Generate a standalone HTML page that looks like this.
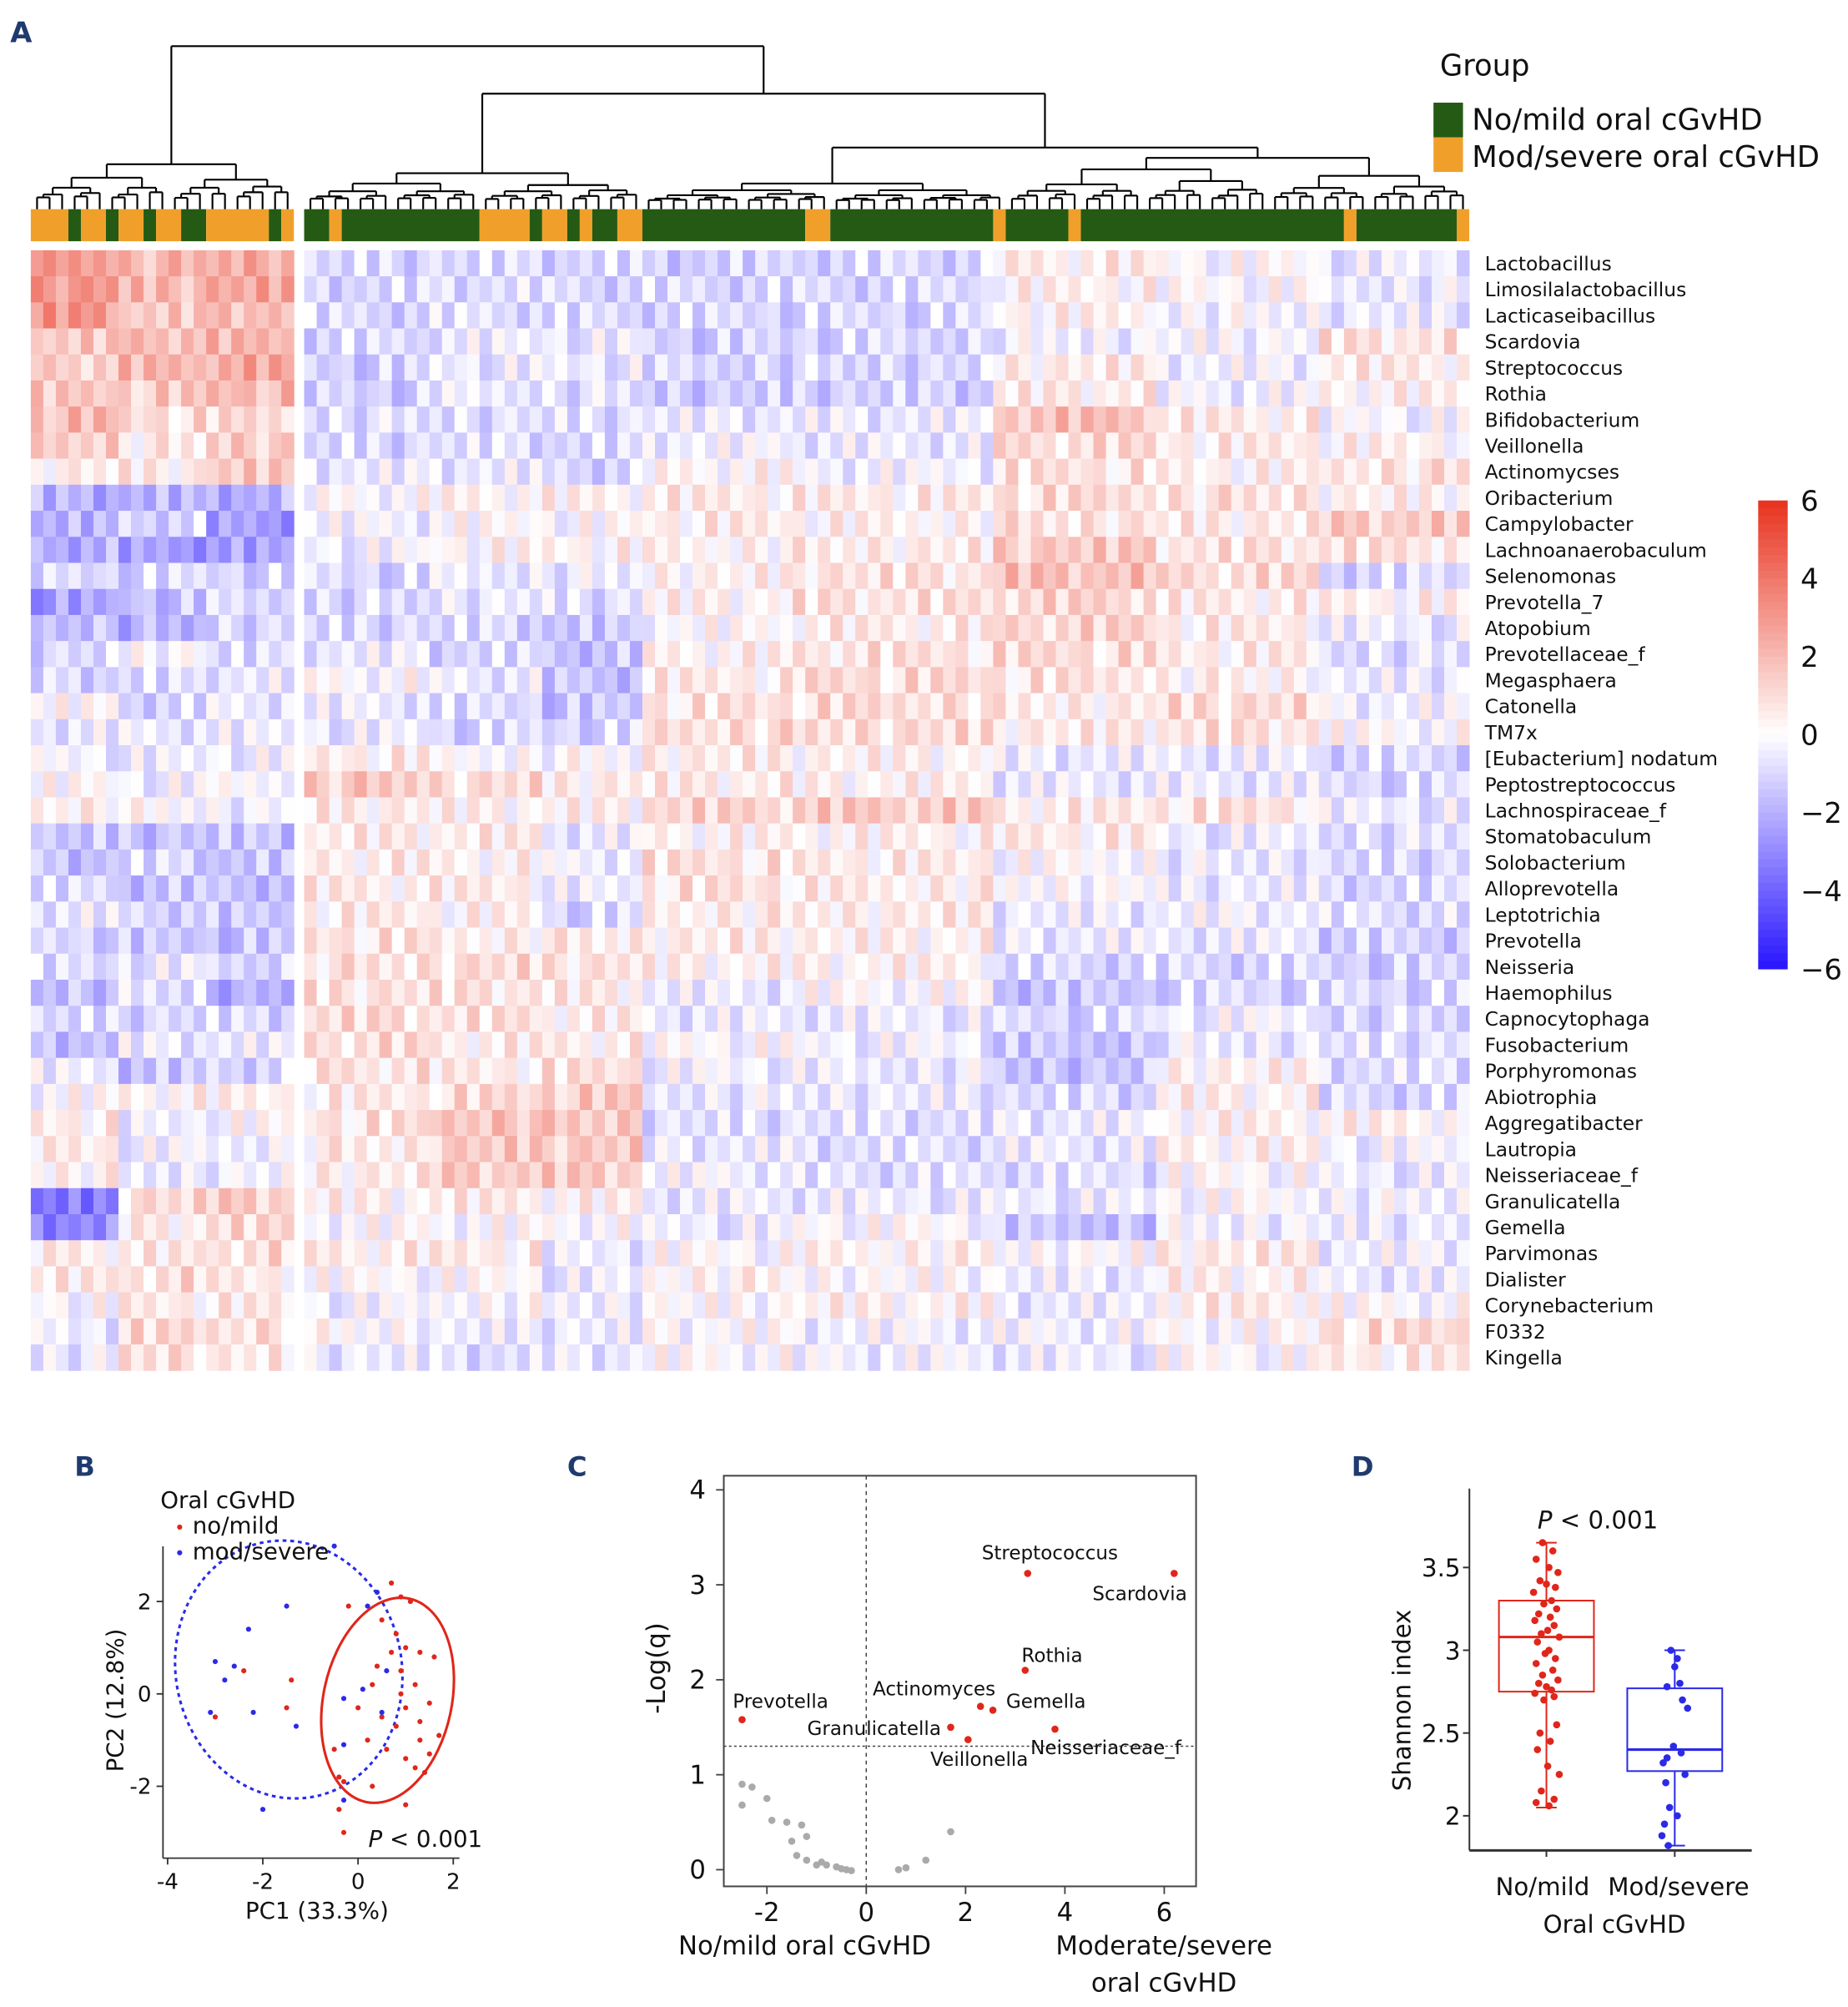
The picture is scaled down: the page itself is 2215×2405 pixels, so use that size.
<!DOCTYPE html>
<html><head><meta charset="utf-8">
<style>
html,body{margin:0;padding:0;background:#fff;}
svg{display:block;}
text{font-family:"DejaVu Sans","Liberation Sans",sans-serif;fill:#111;}
</style></head>
<body>
<svg id="fig" xmlns="http://www.w3.org/2000/svg" width="2215" height="2405" viewBox="0 0 1440 1564" preserveAspectRatio="none">
<rect x="0" y="0" width="1440" height="1564" fill="#fff"/>
<g id="panelA"></g>
<g id="panelB"></g>
<g id="panelC"></g>
<g id="panelD"></g>
</svg>
<script>
// ===== Panel A data =====
const taxa = ["Lactobacillus","Limosilalactobacillus","Lacticaseibacillus","Scardovia","Streptococcus","Rothia","Bifidobacterium","Veillonella","Actinomycses","Oribacterium","Campylobacter","Lachnoanaerobaculum","Selenomonas","Prevotella_7","Atopobium","Prevotellaceae_f","Megasphaera","Catonella","TM7x","[Eubacterium] nodatum","Peptostreptococcus","Lachnospiraceae_f","Stomatobaculum","Solobacterium","Alloprevotella","Leptotrichia","Prevotella","Neisseria","Haemophilus","Capnocytophaga","Fusobacterium","Porphyromonas","Abiotrophia","Aggregatibacter","Lautropia","Neisseriaceae_f","Granulicatella","Gemella","Parvimonas","Dialister","Corynebacterium","F0332","Kingella"];
// group runs: [group(0=no/mild,1=mod/severe), length]
const groupRunsLeft = [[1,3],[0,1],[1,2],[0,1],[1,2],[0,1],[1,2],[0,2],[1,5],[0,1],[1,1]];
const groupRunsRight = [[0,2],[1,1],[0,11],[1,4],[0,1],[1,2],[0,1],[1,1],[0,2],[1,2],[0,13],[1,2],[0,13],[1,1],[0,5],[1,1],[0,21],[1,1],[0,8],[1,1]];
// segment z-score values per taxon: 3 left segments + 8 right segments
const segVals = [
[3,2,2.5,-1,-1,-1,-1.2,-1,0.5,0,-0.5],
[3,2,2.5,-1,-0.8,-1,-1,-1,0.3,0,-0.5],
[3,1.5,2,-1,-0.8,-1,-1,-1,0.3,-0.2,-0.5],
[1.5,2,2,-1,-0.5,-0.5,-1.2,-1,-0.3,-0.2,0.8],
[1.5,2,2.5,-1.2,-0.5,-0.5,-1,-1,0.5,-0.3,0.5],
[1.5,1.5,2,-1.2,-0.5,-0.8,-1.3,-1.2,0.5,-0.3,0.3],
[2,1,1,-0.8,-0.8,-0.8,-0.5,-0.5,1.8,0.5,-0.2],
[1.5,0.5,1.5,-1,-0.8,-1,-0.3,-0.5,1,0.5,0.3],
[0.5,0.5,1.5,-0.5,-0.5,-1,0.2,-0.3,0.8,0.3,0.8],
[-2,-2,-2,0,0.3,0.3,0.5,0.5,1,0.8,0.3],
[-2,-1,-2.5,-0.3,0,0,0.5,0.3,0.8,0.5,1.5],
[-2,-2.5,-2.5,-0.3,0.2,0.3,0.3,0.5,1.5,0.8,0.8],
[-1,-1,-1,-1,-0.5,-0.5,0.3,0.8,1.8,1,-1],
[-2.5,-1.5,-1,-1,-0.5,-0.8,0.3,0.8,1.2,0.5,0.3],
[-1.5,-2,-1,-1,-1,-1.5,0,0.5,1.2,0.5,-0.5],
[-1,0,-1,-0.5,-1,-1.5,0.3,0.8,1,0.5,-0.8],
[-1,-1,-0.5,0,-0.5,-1.5,0.5,1,0.8,0.3,-0.5],
[0,-1,-0.5,-0.5,-1,-1.5,0.8,1,0.5,1,-0.3],
[-0.5,-0.5,-0.5,-0.5,-1,-1,1,1,0.5,0.8,0],
[-0.3,-0.5,-0.3,0.5,0,0,0.5,0.3,-0.5,-0.5,-1],
[0,-0.3,0,1.5,1,0.5,0.5,0.3,-0.5,-0.5,-1],
[0.5,0,-0.3,0.5,0.3,0.3,1.2,1.5,0.5,0.8,-0.5],
[-1.5,-1.5,-1.5,0.5,0.5,-0.5,0.3,0.3,0.5,-0.5,-0.8],
[-1.5,-1,-1.5,0.5,0.3,-0.3,0.8,0.5,0,-0.5,-1],
[-1,-1.5,-1.5,0.5,0.5,-0.5,0.8,0.5,0,-0.5,-1],
[-0.5,-1,-1.5,0.5,0.3,-1,0.5,0.5,-0.5,-0.3,-0.8],
[-1,-1.5,-1.5,0.8,0.5,0.5,0.5,0.3,-0.5,-0.5,-1.2],
[-1,-0.5,-1,0.8,1,0.8,0.3,0.3,-1,-1,-1.2],
[-1.5,-0.8,-2,0.8,0.8,0.5,-0.5,0,-1.5,-1,-1],
[-1,-1,-1,1,0.8,0.5,-0.5,-0.5,-1,-0.3,-1],
[-1.5,-0.5,-0.5,1,0.5,0.5,0,-0.3,-1.5,-0.5,-0.8],
[-0.5,-1.5,-1,0.8,0.5,0.8,-0.3,-0.5,-1.5,0.3,-0.8],
[0,0.3,0.3,0.5,1,1.5,-0.5,-0.5,-1,0.3,-1],
[0.5,-0.5,0,0.8,1.8,1.5,-0.8,-0.8,-0.5,0.3,0.3],
[0.5,-0.3,-0.3,0.5,1.5,1.5,-0.5,-0.8,-0.5,0.3,-0.3],
[0.3,-0.5,-0.3,0.5,1.5,1.5,-0.3,-0.8,-0.8,0,-0.5],
[-3.5,1,1.5,0.3,0.5,0.3,-0.5,-0.5,-0.5,0,-0.3],
[-3,0.5,1,0,0,0,-0.5,0,-1.5,-0.3,-0.5],
[0.5,0.5,1,0.5,0.5,-0.5,0,0.3,0,0.5,-0.3],
[0.5,1,0.5,0,0,-0.5,0.3,0,-0.5,0.3,-0.5],
[0,0.5,0.5,-0.3,0,-0.3,0,0.3,-0.5,0.5,0],
[-0.5,1,1,0,-0.5,-0.5,0,-0.3,-0.3,0,1],
[-0.5,1,0.5,-0.5,-0.8,-0.5,0,-0.3,-0.5,0,0.5]
];
const texture = "4736251840593726184057362918405736291847053629184705362918473506291847350629184735062918473560291847356029184735602918";
const scaleTicks = [6,4,2,0,-2,-4,-6];

// ===== Panel B data =====
const pcaRedX = [-0.2,0.7,0.9,1.1,0.5,0.8,1.0,0.3,-1.4,-2.4,-3.0,-1.5,0.0,0.5,0.8,1.0,1.3,1.5,1.2,0.9,0.7,1.3,1.6,0.2,-0.5,0.6,1.0,1.3,1.5,1.2,1.4,0.3,-0.4,-0.4,1.0,-0.3,0.9,1.7,-0.3,0.4];
const pcaRedY = [1.9,2.4,2.1,2.0,1.6,1.3,1.0,0.2,0.3,0.5,-0.5,-0.3,-0.3,-0.5,-0.7,-0.3,-0.6,-0.2,0.2,0.5,0.9,0.9,0.8,-1.0,-1.2,-1.2,-1.4,-1.0,-1.3,-1.6,-1.7,-2.0,-1.8,-2.5,-2.4,-1.9,0.0,-0.9,-3.0,0.6];
const pcaBlueX = [-0.5,-1.5,-2.3,-3.0,-2.6,-2.8,-3.1,-2.2,-1.3,-0.3,-0.3,-2.0,0.2,0.4,0.6,0.5,0.1,-0.3];
const pcaBlueY = [3.2,1.9,1.4,0.7,0.6,0.3,-0.4,-0.4,-0.7,-1.1,-2.3,-2.5,1.9,2.2,0.5,-0.4,0.1,-0.1];
const pcaXTicks = [-4,-2,0,2];
const pcaYTicks = [2,0,-2];

// ===== Panel C data =====
const volcLabels = ["Streptococcus","Scardovia","Rothia","Actinomyces","Gemella","Prevotella","Granulicatella","Veillonella","Neisseriaceae_f"];
const volcSigX = [3.25,6.2,3.2,2.3,2.55,-2.5,1.7,2.05,3.8];
const volcSigY = [3.12,3.12,2.1,1.72,1.68,1.58,1.5,1.37,1.48];
const volcNsX = [-2.5,-2.3,-2.5,-2.0,-1.9,-1.6,-1.3,-1.2,-1.5,-1.4,-1.2,-1.0,-0.8,-0.6,-0.5,-0.4,-0.3,-0.9,0.65,0.8,1.2,1.7];
const volcNsY = [0.9,0.87,0.68,0.75,0.52,0.5,0.47,0.35,0.3,0.15,0.1,0.05,0.05,0.03,0.01,0.0,-0.01,0.08,0.0,0.02,0.1,0.4];
const volcXTicks = [-2,0,2,4,6];
const volcYTicks = [0,1,2,3,4];
const volcThreshold = 1.3;

// ===== Panel D data =====
const shannonRed = [3.65,3.6,3.55,3.5,3.47,3.42,3.4,3.38,3.35,3.3,3.28,3.25,3.22,3.2,3.18,3.15,3.12,3.1,3.08,3.05,3.0,2.98,2.95,2.92,2.88,2.85,2.82,2.8,2.78,2.76,2.74,2.72,2.7,2.55,2.5,2.45,2.4,2.3,2.25,2.15,2.1,2.08,2.06];
const shannonBlue = [3.0,2.95,2.9,2.8,2.78,2.7,2.65,2.42,2.38,2.35,2.32,2.25,2.2,2.05,2.0,1.95,1.82,1.88];
const redBox = {q1:2.75,med:3.08,q3:3.3,lo:2.05,hi:3.65};
const blueBox = {q1:2.27,med:2.4,q3:2.77,lo:1.82,hi:3.0};
const shannonTicks = [2,2.5,3,3.5];

const NS="http://www.w3.org/2000/svg";
function mk(tag, attrs, parent, txt){const e=document.createElementNS(NS,tag);for(const k in attrs)e.setAttribute(k,attrs[k]);if(txt!==undefined)e.textContent=txt;parent.appendChild(e);return e;}

// ===== Panel A =====
(function(){
const g=document.getElementById('panelA');
const t=mk('text',{x:8,y:33,'font-size':22,'font-weight':'bold',style:'fill:#1f3a6e'},g,'A');


const w=(229-24)/21, nL=21, nR=93, top=195, rh=(1068-195)/taxa.length;
const colX=c=>c<nL?24+c*w:237+(c-nL)*w;
const rightSeg=[0,10,19,27,39,55,68,81,93];
function segOf(c){if(c<nL)return Math.min(2,Math.floor(c/7));const r=c-nL;for(let i=0;i<8;i++){if(r<rightSeg[i+1])return 3+i;}return 10;}
function color(v){v=Math.max(-6,Math.min(6,v));const f=Math.abs(v)/6;
 if(v>=0){return `rgb(${Math.round(255-(255-232)*f)},${Math.round(255-(255-50)*f)},${Math.round(255-(255-30)*f)})`;}
 return `rgb(${Math.round(255-(255-40)*f)},${Math.round(255-(255-20)*f)},${Math.round(255-(255-255)*f)})`;}
const hm=mk('g',{},g);


for(let r=0;r<taxa.length;r++){
 for(let c=0;c<nL+nR;c++){
  const d=+texture[(c+r*17)%texture.length];
  const v=segVals[r][segOf(c)]+(d-4.5)*0.22;
  const cell=mk('rect',{x:colX(c).toFixed(2),y:(top+r*rh).toFixed(2),width:(w+0.3).toFixed(2),height:(rh+0.3).toFixed(2),fill:color(v)},hm);
  
  
 }
 const lab=mk('text',{x:1157,y:(top+r*rh+rh/2+5.5).toFixed(1),'font-size':15.2},g,taxa[r]);
 
 
}
// group bar
const gb=mk('g',{},g);


let c=0;
for(const [grp,len] of groupRunsLeft.concat(groupRunsRight)){
 const x0=colX(c), x1=colX(c+len-1)+w;
 const rr=mk('rect',{x:x0.toFixed(2),y:163,width:(x1-x0).toFixed(2),height:25,fill:grp?'#f0a02a':'#245a14'},gb);
 
 
 c+=len;
}
// dendrogram
const dg=mk('g',{stroke:'#000','stroke-width':1.4,fill:'none'},g);


function line(x1,y1,x2,y2){mk('line',{x1,y1,x2,y2},dg);}
function tree(a,b,yTop,depth){
 if(a===b)return colX(a)+w/2;
 const m=Math.floor((a+b)/2);
 const span=158-yTop;
 const yL=yTop+span*(0.35+0.1*((a+depth)%3)/2), yR=yTop+span*(0.3+0.1*((b+depth)%3)/2);
 const xl=tree(a,m,m===a?158:yL,depth+1), xr=tree(m+1,b,m+1===b?158:yR,depth+1);
 const ylT=m===a?158:yL, yrT=m+1===b?158:yR;
 line(xl,ylT,xl,yTop);line(xr,yrT,xr,yTop);line(xl,yTop,xr,yTop);
 return (xl+xr)/2;
}
function leafDrop(a,b){for(let i=a;i<=b;i++){line(colX(i)+w/2,158,colX(i)+w/2,163);}}
leafDrop(0,nL+nR-1);
const xLeft=tree(0,20,128,0);
const xA=tree(21,47,135,0);
const xB=tree(48,76,143,0);
const xC1=tree(77,97,132,0);
const xC2=tree(98,113,137,0);
line(xC1,132,xC1,123);line(xC2,137,xC2,123);line(xC1,123,xC2,123);
const xC=(xC1+xC2)/2;
line(xB,143,xB,115);line(xC,123,xC,115);line(xB,115,xC,115);
const xBC=(xB+xC)/2;
line(xA,135,xA,73);line(xBC,115,xBC,73);line(xA,73,xBC,73);
const xR=(xA+xBC)/2;
line(xLeft,128,xLeft,36);line(xR,73,xR,36);line(xLeft,36,xR,36);
// legend
const lg=mk('g',{},g);


mk('text',{x:1122,y:59,'font-size':23},lg,'Group');
const s1=mk('rect',{x:1117,y:80,width:23,height:27,fill:'#245a14'},lg);


const s2=mk('rect',{x:1117,y:107,width:23,height:27,fill:'#f0a02a'},lg);


mk('text',{x:1147,y:101,'font-size':23},lg,'No/mild oral cGvHD');
mk('text',{x:1147,y:130,'font-size':23},lg,'Mod/severe oral cGvHD');
// colour scale
const cb=mk('g',{},g);


const cbTop=390,cbBot=755,steps=60;
for(let i=0;i<steps;i++){
 const v=6-12*(i+0.5)/steps;
 mk('rect',{x:1370,y:(cbTop+i*(cbBot-cbTop)/steps).toFixed(2),width:23,height:((cbBot-cbTop)/steps+0.4).toFixed(2),fill:color(v)},cb);
}
for(const tv of scaleTicks){
 const y=cbTop+(6-tv)/12*(cbBot-cbTop);
 const tl=mk('text',{x:1403,y:(y+8).toFixed(1),'font-size':22},cb,tv<0?'\u2212'+Math.abs(tv):String(tv));
 
 
}
})();

// ===== Panel B =====
(function(){
const g=document.getElementById('panelB');
const L=mk('text',{x:58,y:1150,'font-size':21,'font-weight':'bold',style:'fill:#1f3a6e'},g,'B');


const X=v=>279+v*37.1, Y=v=>1320-v*36;
const ax=mk('g',{stroke:'#333','stroke-width':1.2},g);


mk('line',{x1:127,y1:1205,x2:127,y2:1448},ax);
mk('line',{x1:127,y1:1448,x2:358,y2:1448},ax);
for(const t of pcaXTicks){mk('line',{x1:X(t),y1:1448,x2:X(t),y2:1453},ax);
 const tl=mk('text',{x:X(t),y:1472,'font-size':17,'text-anchor':'middle'},g,t<0?'-'+Math.abs(t):String(t));
 
 }
for(const t of pcaYTicks){mk('line',{x1:122,y1:Y(t),x2:127,y2:Y(t)},ax);
 const tl=mk('text',{x:118,y:Y(t)+6,'font-size':17,'text-anchor':'end'},g,t<0?'-'+Math.abs(t):String(t));
 
 }
const xt=mk('text',{x:247,y:1495,'font-size':18,'text-anchor':'middle'},g,'PC1 (33.3%)');


const yt=mk('text',{x:0,y:0,'font-size':18,'text-anchor':'middle',transform:'translate(96,1325) rotate(-90)'},g,'PC2 (12.8%)');


const e1=mk('ellipse',{cx:225,cy:1301,rx:88,ry:101,fill:'none',stroke:'#2a2ae8','stroke-width':2,'stroke-dasharray':'3 3',transform:'rotate(-12 225 1301)'},g);


const e2=mk('ellipse',{cx:302,cy:1325,rx:50,ry:81,fill:'none',stroke:'#e0261b','stroke-width':2,transform:'rotate(12 302 1325)'},g);


pcaRedX.forEach((v,i)=>{const p=mk('circle',{cx:X(v),cy:Y(pcaRedY[i]),r:2,fill:'#e0261b'},g);
 
 });
pcaBlueX.forEach((v,i)=>{const p=mk('circle',{cx:X(v),cy:Y(pcaBlueY[i]),r:2,fill:'#2a2ae8'},g);
 
 });
const lg=mk('g',{},g);


mk('text',{x:125,y:1175,'font-size':18},lg,'Oral cGvHD');
mk('circle',{cx:140,cy:1190,r:2,fill:'#e0261b'},lg);
mk('text',{x:150,y:1195,'font-size':18},lg,'no/mild');
mk('circle',{cx:140,cy:1210,r:2,fill:'#2a2ae8'},lg);
mk('text',{x:150,y:1215,'font-size':18},lg,'mod/severe');
const pv=mk('text',{x:287,y:1439,'font-size':18},g);


mk('tspan',{'font-style':'italic'},pv,'P');mk('tspan',{},pv,' < 0.001');
})();

// ===== Panel C =====
(function(){
const g=document.getElementById('panelC');
const L=mk('text',{x:442,y:1150,'font-size':21,'font-weight':'bold',style:'fill:#1f3a6e'},g,'C');


const X=v=>675+v*38.7, Y=v=>1457-v*74;
const fr=mk('rect',{x:564,y:1150,width:368,height:320,fill:'none',stroke:'#444','stroke-width':1.3},g);


const ax=mk('g',{stroke:'#444','stroke-width':1.2},g);
for(const t of volcXTicks){mk('line',{x1:X(t),y1:1470,x2:X(t),y2:1476},ax);
 const tl=mk('text',{x:X(t),y:1497,'font-size':20,'text-anchor':'middle'},g,t<0?'-'+Math.abs(t):String(t));
 
 }
for(const t of volcYTicks){mk('line',{x1:558,y1:Y(t),x2:564,y2:Y(t)},ax);
 const tl=mk('text',{x:550,y:Y(t)+7,'font-size':20,'text-anchor':'end'},g,String(t));
 
 }
const vl=mk('line',{x1:X(0),y1:1150,x2:X(0),y2:1470,stroke:'#444','stroke-width':1,'stroke-dasharray':'3 3'},g);


const hl=mk('line',{x1:564,y1:Y(volcThreshold),x2:932,y2:Y(volcThreshold),stroke:'#444','stroke-width':1,'stroke-dasharray':'2 2'},g);


volcNsX.forEach((v,i)=>{const p=mk('circle',{cx:X(v),cy:Y(volcNsY[i]),r:2.8,fill:'#aaa'},g);
 
 });
const labPos=[[765,1215,'start'],[925,1247,'end'],[796,1295,'start'],[680,1321,'start'],[784,1331,'start'],[571,1331,'start'],[629,1352,'start'],[725,1376,'start'],[803,1367,'start']];
volcSigX.forEach((v,i)=>{const p=mk('circle',{cx:X(v),cy:Y(volcSigY[i]),r:2.8,fill:'#e0261b'},g);
 
 
 const tl=mk('text',{x:labPos[i][0],y:labPos[i][1],'font-size':15,'text-anchor':labPos[i][2]},g,volcLabels[i]);
 
 });
const yt=mk('text',{x:0,y:0,'font-size':20,'text-anchor':'middle',transform:'translate(518,1300) rotate(-90)'},g,'-Log(q)');


const x1=mk('text',{x:627,y:1523,'font-size':20,'text-anchor':'middle'},g,'No/mild oral cGvHD');


const x2=mk('text',{x:907,y:1523,'font-size':20,'text-anchor':'middle'},g,'Moderate/severe');


mk('text',{x:907,y:1552,'font-size':20,'text-anchor':'middle'},g,'oral cGvHD');
})();

// ===== Panel D =====
(function(){
const g=document.getElementById('panelD');
const L=mk('text',{x:1053,y:1150,'font-size':21,'font-weight':'bold',style:'fill:#1f3a6e'},g,'D');


const Y=v=>1286-(v-3)*129;
const cx=[1205,1305];
const ax=mk('g',{stroke:'#333','stroke-width':1.3},g);


mk('line',{x1:1145,y1:1160,x2:1145,y2:1442},ax);
mk('line',{x1:1145,y1:1442,x2:1365,y2:1442,'stroke-width':2},ax);
for(const t of shannonTicks){mk('line',{x1:1140,y1:Y(t),x2:1145,y2:Y(t)},ax);
 const tl=mk('text',{x:1138,y:Y(t)+7,'font-size':19,'text-anchor':'end'},g,String(t));
 
 }
cx.forEach(x=>mk('line',{x1:x,y1:1442,x2:x,y2:1447},ax));
function box(b,x,col,name){
 const bg=mk('g',{stroke:col,fill:'none','stroke-width':1.3},g);
 
 
 mk('line',{x1:x,y1:Y(b.hi),x2:x,y2:Y(b.lo)},bg);
 mk('line',{x1:x-8,y1:Y(b.hi),x2:x+8,y2:Y(b.hi)},bg);
 mk('line',{x1:x-8,y1:Y(b.lo),x2:x+8,y2:Y(b.lo)},bg);
 mk('rect',{x:x-37,y:Y(b.q3),width:74,height:Y(b.q1)-Y(b.q3),fill:'#fff'},bg);
 mk('line',{x1:x-37,y1:Y(b.med),x2:x+37,y2:Y(b.med),'stroke-width':2},bg);
}
box(redBox,cx[0],'#e0261b','box-no-mild');
box(blueBox,cx[1],'#2a2ae8','box-mod-severe');
const jit=[-3,5,-8,2,9,-5,0,7,-10,4,-2,8,-6,3,-9,6,1,-4,10,-7,2,-1,7,-8,5,-3,9,-6,0,4,-9,6,-2,8,-5,3,-7,1,10,-4,6,-8,2];
shannonRed.forEach((v,i)=>{const p=mk('circle',{cx:cx[0]+jit[i%jit.length],cy:Y(v),r:2.8,fill:'#e0261b'},g);
 
 });
shannonBlue.forEach((v,i)=>{const p=mk('circle',{cx:cx[1]+jit[(i*3)%jit.length],cy:Y(v),r:2.8,fill:'#2a2ae8'},g);
 
 });
const pv=mk('text',{x:1245,y:1191,'font-size':19,'text-anchor':'middle'},g);


mk('tspan',{'font-style':'italic'},pv,'P');mk('tspan',{},pv,' < 0.001');
const xl1=mk('text',{x:cx[0]-3,y:1477,'font-size':19,'text-anchor':'middle'},g,'No/mild');


const xl2=mk('text',{x:cx[1]+3,y:1477,'font-size':19,'text-anchor':'middle'},g,'Mod/severe');


const xt=mk('text',{x:1258,y:1506,'font-size':19,'text-anchor':'middle'},g,'Oral cGvHD');


const yt=mk('text',{x:0,y:0,'font-size':19,'text-anchor':'middle',transform:'translate(1099,1325) rotate(-90)'},g,'Shannon index');


})();
</script>
</body></html>
